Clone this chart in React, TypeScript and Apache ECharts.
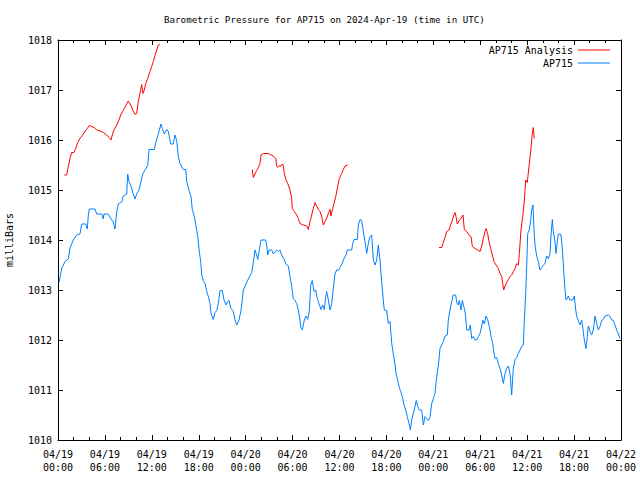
import React, { useEffect, useRef } from "react";
import * as echarts from "echarts";

// hours since 2024-04-19 00:00 UTC, pressure in milliBars
const ap715: [number, number][] = [
  [0.13,1013.15],[0.47,1013.43],[0.90,1013.57],[1.32,1013.62],[1.53,1013.84],[1.96,1014.0],[2.39,1014.1],[2.81,1014.12],[3.03,1014.32],[3.54,1014.32],[3.75,1014.22],[3.88,1014.5],[4.00,1014.62],[4.73,1014.62],[4.95,1014.52],[5.59,1014.52],[5.79,1014.42],[5.88,1014.52],[6.43,1014.52],[6.78,1014.42],[7.07,1014.36],[7.29,1014.22],[7.51,1014.56],[7.71,1014.72],[8.15,1014.76],[8.35,1014.88],[8.79,1014.92],[8.91,1015.32],[9.08,1015.17],[9.34,1015.07],[9.63,1014.92],[9.85,1014.82],[10.06,1014.92],[10.36,1015.0],[10.61,1015.17],[10.83,1015.32],[11.13,1015.4],[11.47,1015.49],[11.64,1015.81],[12.32,1015.81],[12.53,1015.97],[12.83,1016.12],[13.17,1016.32],[13.34,1016.23],[13.59,1016.12],[13.90,1016.21],[14.11,1016.17],[14.41,1015.92],[14.75,1015.92],[14.96,1016.1],[15.18,1015.99],[15.39,1015.67],[15.60,1015.53],[16.02,1015.41],[16.33,1015.41],[16.46,1015.17],[16.79,1014.97],[17.01,1014.87],[17.18,1014.61],[17.43,1014.47],[17.65,1014.28],[17.87,1014.08],[18.07,1013.77],[18.25,1013.57],[18.38,1013.3],[18.58,1013.19],[18.80,1013.13],[19.02,1012.97],[19.22,1012.87],[19.44,1012.73],[19.57,1012.53],[19.86,1012.41],[20.08,1012.55],[20.30,1012.59],[20.50,1012.73],[20.72,1012.99],[21.01,1012.99],[21.23,1012.8],[21.49,1012.7],[21.70,1012.77],[21.87,1012.79],[22.12,1012.63],[22.42,1012.57],[22.64,1012.4],[22.85,1012.3],[23.15,1012.4],[23.40,1012.59],[23.57,1012.8],[23.70,1013.0],[24.00,1013.1],[24.34,1013.22],[24.77,1013.35],[24.98,1013.55],[25.19,1013.8],[25.41,1013.7],[25.54,1013.61],[25.74,1013.8],[25.96,1014.0],[26.56,1014.0],[26.69,1013.9],[26.82,1013.7],[26.98,1013.8],[27.33,1013.8],[27.53,1013.72],[27.75,1013.77],[27.97,1013.8],[28.17,1013.77],[28.39,1013.8],[28.61,1013.7],[28.94,1013.61],[29.12,1013.52],[29.45,1013.48],[29.67,1013.27],[29.89,1013.07],[30.09,1012.83],[30.31,1012.79],[30.53,1012.73],[30.73,1012.6],[30.95,1012.4],[31.08,1012.23],[31.24,1012.2],[31.50,1012.4],[31.72,1012.48],[31.93,1012.41],[32.14,1012.57],[32.32,1013.1],[32.52,1013.19],[32.74,1012.97],[32.96,1013.0],[33.16,1012.83],[33.38,1012.73],[33.64,1012.61],[33.85,1012.7],[34.06,1012.61],[34.24,1012.87],[34.36,1012.97],[34.57,1012.8],[34.79,1012.6],[35.00,1012.73],[35.21,1013.03],[35.43,1013.33],[35.64,1013.4],[35.85,1013.39],[36.06,1013.45],[36.36,1013.53],[36.49,1013.6],[36.83,1013.7],[37.00,1013.8],[37.56,1013.8],[37.69,1013.93],[37.85,1014.01],[38.28,1014.01],[38.41,1014.3],[38.62,1014.41],[38.84,1014.39],[39.05,1014.17],[39.26,1013.97],[39.48,1013.73],[39.68,1013.93],[39.90,1014.07],[40.12,1014.1],[40.32,1013.6],[40.54,1013.5],[40.76,1013.6],[40.96,1013.9],[41.18,1013.6],[41.31,1013.33],[41.47,1013.03],[41.60,1012.8],[41.73,1012.6],[42.04,1012.59],[42.24,1012.33],[42.46,1012.37],[42.68,1011.93],[42.88,1011.73],[43.10,1011.5],[43.23,1011.33],[43.39,1011.23],[43.61,1011.07],[43.83,1010.97],[44.03,1010.87],[44.25,1010.7],[44.47,1010.6],[44.67,1010.47],[44.89,1010.33],[45.06,1010.2],[45.23,1010.4],[45.44,1010.53],[45.66,1010.67],[45.82,1010.79],[46.00,1010.67],[46.21,1010.6],[46.51,1010.6],[46.72,1010.3],[46.94,1010.47],[47.15,1010.43],[47.36,1010.39],[47.57,1010.45],[47.79,1010.73],[48.00,1010.83],[48.21,1010.93],[48.34,1011.13],[48.51,1011.35],[48.69,1011.55],[48.85,1011.83],[49.07,1011.9],[49.28,1011.97],[49.49,1012.08],[49.79,1012.1],[49.91,1012.4],[50.13,1012.6],[50.35,1012.77],[50.55,1012.9],[50.86,1012.9],[50.99,1012.75],[51.19,1012.7],[51.32,1012.79],[51.54,1012.6],[51.71,1012.79],[51.96,1012.63],[52.14,1012.47],[52.27,1012.2],[52.56,1012.2],[52.73,1012.3],[52.91,1012.03],[53.11,1012.07],[53.33,1012.0],[53.55,1012.0],[53.75,1012.07],[53.97,1012.13],[54.19,1012.28],[54.31,1012.4],[54.52,1012.32],[54.74,1012.48],[54.95,1012.41],[55.16,1012.27],[55.38,1012.07],[55.59,1011.93],[55.72,1011.77],[55.89,1011.63],[56.10,1011.65],[56.31,1011.53],[56.53,1011.43],[56.74,1011.3],[56.95,1011.13],[57.17,1011.33],[57.38,1011.43],[57.59,1011.48],[57.81,1011.33],[58.02,1010.9],[58.23,1011.43],[58.45,1011.61],[58.66,1011.65],[58.87,1011.73],[59.09,1011.8],[59.30,1011.88],[59.51,1011.9],[59.64,1012.4],[59.81,1012.93],[59.94,1013.47],[60.07,1014.13],[60.27,1014.2],[60.45,1014.4],[60.58,1014.6],[60.75,1014.7],[60.87,1014.2],[61.00,1013.9],[61.22,1013.67],[61.43,1013.57],[61.64,1013.4],[61.86,1013.45],[62.07,1013.5],[62.28,1013.53],[62.50,1013.68],[62.70,1013.63],[62.92,1013.73],[63.05,1014.1],[63.22,1014.41],[63.34,1014.17],[63.56,1013.97],[63.69,1013.73],[63.86,1013.97],[63.98,1014.12],[64.29,1014.12],[64.42,1013.97],[64.55,1013.7],[64.71,1013.3],[64.84,1013.01],[64.97,1012.8],[65.13,1012.83],[65.26,1012.88],[65.48,1012.8],[65.82,1012.8],[66.03,1012.88],[66.21,1012.6],[66.34,1012.47],[66.54,1012.39],[66.76,1012.3],[66.98,1012.4],[67.18,1012.17],[67.31,1012.0],[67.52,1011.83],[67.69,1012.07],[67.82,1012.28],[68.04,1012.17],[68.25,1012.1],[68.46,1012.2],[68.68,1012.48],[68.89,1012.33],[69.10,1012.2],[69.32,1012.27],[69.53,1012.39],[69.74,1012.41],[69.96,1012.48],[70.38,1012.5],[70.60,1012.47],[70.81,1012.4],[71.02,1012.39],[71.23,1012.3],[71.45,1012.2],[71.66,1012.12],[71.87,1012.03]
];

const analysis1: [number, number][] = [
  [0.81,1015.3],[1.11,1015.3],[1.32,1015.47],[1.53,1015.63],[1.75,1015.75],[2.05,1015.75],[2.26,1015.83],[2.52,1015.95],[2.81,1016.03],[3.11,1016.09],[3.45,1016.17],[3.75,1016.23],[4.00,1016.29],[4.31,1016.27],[4.64,1016.25],[4.95,1016.2],[5.37,1016.18],[5.79,1016.15],[6.23,1016.1],[6.52,1016.05],[6.78,1016.0],[6.94,1016.1],[7.16,1016.2],[7.51,1016.3],[7.80,1016.4],[8.02,1016.5],[8.27,1016.57],[8.48,1016.63],[8.70,1016.7],[8.99,1016.78],[9.30,1016.7],[9.55,1016.6],[9.85,1016.51],[10.06,1016.53],[10.27,1016.77],[10.49,1016.93],[10.70,1017.11],[10.87,1016.93],[11.04,1017.0],[11.22,1017.13],[11.47,1017.23],[11.77,1017.37],[11.98,1017.47],[12.19,1017.57],[12.41,1017.69],[12.62,1017.8],[12.83,1017.9],[13.04,1017.92]
];
const analysis2: [number, number][] = [
  [24.85,1015.41],[24.98,1015.25],[25.19,1015.32],[25.41,1015.39],[25.62,1015.45],[25.83,1015.53],[25.96,1015.7],[26.26,1015.73],[26.90,1015.73],[27.24,1015.7],[27.53,1015.68],[27.84,1015.63],[27.97,1015.47],[28.10,1015.45],[28.26,1015.48],[28.52,1015.48],[28.69,1015.52],[28.81,1015.5],[28.94,1015.33],[29.16,1015.2],[29.38,1015.13],[29.67,1015.0],[29.89,1014.83],[29.96,1014.63],[30.22,1014.57],[30.53,1014.5],[30.73,1014.43],[30.95,1014.33],[31.37,1014.3],[31.81,1014.28],[32.01,1014.21],[32.23,1014.37],[32.45,1014.5],[32.65,1014.63],[32.87,1014.75],[33.08,1014.68],[33.29,1014.61],[33.51,1014.57],[33.72,1014.48],[33.93,1014.3],[34.15,1014.37],[34.36,1014.43],[34.57,1014.53],[34.79,1014.61],[34.91,1014.48],[35.08,1014.6],[35.30,1014.73],[35.52,1014.87],[35.77,1015.07],[35.98,1015.23],[36.28,1015.33],[36.49,1015.41],[36.70,1015.48],[37.05,1015.5]
];
const analysis3: [number, number][] = [
  [48.73,1013.85],[49.07,1013.85],[49.28,1013.95],[49.49,1014.05],[49.71,1014.17],[50.00,1014.2],[50.22,1014.3],[50.43,1014.4],[50.64,1014.5],[50.77,1014.55],[50.90,1014.47],[51.07,1014.32],[51.28,1014.39],[51.54,1014.43],[51.80,1014.5],[51.96,1014.21],[52.27,1014.17],[52.56,1014.1],[52.82,1014.07],[52.99,1013.87],[53.33,1013.83],[53.67,1013.8],[53.97,1013.77],[54.19,1013.88],[54.39,1014.03],[54.61,1014.17],[54.74,1014.23],[54.95,1014.13],[55.12,1013.97],[55.34,1013.83],[55.54,1013.7],[55.76,1013.57],[56.02,1013.5],[56.31,1013.43],[56.53,1013.33],[56.74,1013.27],[56.87,1013.13],[57.00,1013.0],[57.17,1013.08],[57.38,1013.15],[57.59,1013.21],[57.81,1013.27],[58.02,1013.3],[58.23,1013.37],[58.45,1013.43],[58.66,1013.53],[58.87,1013.5],[59.00,1013.73],[59.21,1014.2],[59.43,1014.47],[59.64,1014.8],[59.81,1015.2],[60.02,1015.15],[60.23,1015.47],[60.45,1015.77],[60.66,1016.13],[60.79,1016.25],[60.91,1016.03]
];

const xTicksHours = { min: 0, max: 72, step: 6 };
const yTicks = { min: 1010, max: 1018, step: 1 };

const FONT = "DejaVu Sans Mono";

function xLabel(v: number): string {
  const day = 19 + Math.floor(v / 24);
  const h = v % 24;
  return `04/${day}\n${String(h).padStart(2, "0")}:00`;
}

export default function App() {
  const ref = useRef<HTMLDivElement>(null);
  useEffect(() => {
    if (!ref.current) return;
    const chart = echarts.init(ref.current, null, { renderer: "svg" });
    const black = { color: "#000", width: 1 };
    const xBase = {
      type: "value" as const,
      min: xTicksHours.min,
      max: xTicksHours.max,
      interval: xTicksHours.step,
      axisLine: { show: true, onZero: false, lineStyle: black },
      axisTick: { show: true, inside: true, length: 5, lineStyle: black },
      minorTick: { show: true, splitNumber: 3, length: 3, lineStyle: black },
      splitLine: { show: false },
    };
    const yBase = {
      type: "value" as const,
      min: yTicks.min,
      max: yTicks.max,
      interval: yTicks.step,
      axisLine: { show: true, onZero: false, lineStyle: black },
      axisTick: { show: true, inside: true, length: 5, lineStyle: black },
      splitLine: { show: false },
    };
    const brk = (a: any[], b: any[]) => [
      ...a,
      [(a[a.length - 1][0] + b[0][0]) / 2, "-"],
      ...b,
    ];
    const analysisData = brk(brk(analysis1, analysis2), analysis3);
    const legendText = { fontFamily: FONT, fontSize: 10, color: "#000" };
    chart.setOption({
      animation: false,
      backgroundColor: "#fff",
      title: {
        text: "Barometric Pressure for AP715 on 2024-Apr-19 (time in UTC)",
        left: 164,
        top: 15,
        padding: 0,
        textStyle: { fontFamily: FONT, fontSize: 9.2, fontWeight: "normal", color: "#000" },
      },
      legend: [
        {
          data: ["AP715 Analysis"],
          right: 30,
          top: 45,
          padding: 0,
          align: "right",
          icon: "rect",
          itemWidth: 32,
          itemHeight: 1,
          textStyle: legendText,
        },
        {
          data: ["AP715"],
          right: 30,
          top: 58,
          padding: 0,
          align: "right",
          icon: "rect",
          itemWidth: 32,
          itemHeight: 1,
          textStyle: legendText,
        },
      ],
      grid: {
        left: 58,
        right: 19,
        top: 40,
        bottom: 40,
        containLabel: false,
        outerBoundsMode: "none",
      },
      xAxis: [
        {
          ...xBase,
          position: "bottom",
          axisLabel: {
            formatter: xLabel,
            color: "#000",
            fontFamily: FONT,
            fontSize: 10,
            lineHeight: 13,
            margin: 8,
          },
        },
        { ...xBase, position: "top", axisLabel: { show: false } },
      ],
      yAxis: [
        {
          ...yBase,
          position: "left",
          name: "milliBars",
          nameLocation: "middle",
          nameGap: 44,
          nameRotate: 90,
          nameTextStyle: { fontFamily: FONT, fontSize: 10, color: "#000" },
          axisLabel: {
            color: "#000",
            fontFamily: FONT,
            fontSize: 10,
            margin: 6,
            formatter: (v: number) => String(v),
          },
        },
        { ...yBase, position: "right", axisLabel: { show: false } },
      ],
      series: [
        {
          name: "AP715 Analysis",
          type: "line",
          data: analysisData,
          showSymbol: false,
          symbol: "none",
          connectNulls: false,
          itemStyle: { color: "#ff0000" },
          lineStyle: { color: "#ff0000", width: 1 },
        },
        {
          name: "AP715",
          type: "line",
          data: ap715,
          showSymbol: false,
          symbol: "none",
          itemStyle: { color: "#0080ff" },
          lineStyle: { color: "#0080ff", width: 1 },
        },
      ],
    });
    return () => chart.dispose();
  }, []);
  return (
    <div
      ref={ref}
      style={{ position: "fixed", left: 0, top: 0, width: 640, height: 480 }}
    />
  );
}
